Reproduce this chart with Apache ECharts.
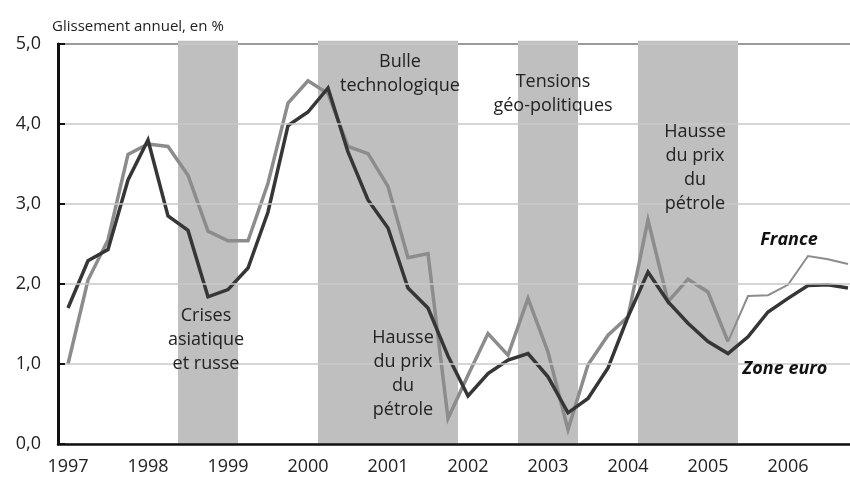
<!DOCTYPE html>
<html lang="fr">
<head>
    <meta charset="utf-8"/>
    <title>Glissement annuel, en %</title>
    <script src="https://cdn.jsdelivr.net/npm/echarts@6/dist/echarts.min.js"></script>
    <style>
        html, body { margin: 0; padding: 0; background: #fff; }
        #main { width: 850px; height: 481px; }
    </style>
</head>
<body>
<div id="main"></div>
<script>
    // trimestres 1997T1 .. 2006T4
    var quarters = [];
    for (var y = 1997; y <= 2006; y++) {
        for (var q = 1; q <= 4; q++) {
            quarters.push(y + 'T' + q);
        }
    }

    var zoneEuro = [1.70, 2.29, 2.43, 3.30, 3.80, 2.85, 2.67, 1.84, 1.93, 2.20,
        2.90, 3.98, 4.15, 4.45, 3.65, 3.05, 2.70, 1.95, 1.70, 1.10,
        0.60, 0.88, 1.05, 1.13, 0.84, 0.39, 0.57, 0.95, 1.59, 2.15,
        1.78, 1.51, 1.28, 1.13, 1.34, 1.65, 1.82, 1.98, 1.99, 1.95];

    var france = [1.00, 2.05, 2.55, 3.62, 3.75, 3.72, 3.36, 2.66, 2.54, 2.54,
        3.26, 4.26, 4.54, 4.38, 3.72, 3.63, 3.22, 2.33, 2.38, 0.32,
        0.86, 1.38, 1.11, 1.82, 1.15, 0.18, 0.99, 1.36, 1.59, 2.80,
        1.78, 2.06, 1.90, 1.28, 1.85, 1.86, 1.99, 2.35, 2.31, 2.25];

    // à partir de cet indice la courbe France est tracée en trait fin
    var franceThinFrom = 33;

    // épisodes grisés, en bornes de trimestres (0 = début 1997)
    var bandStart = [6, 13, 23, 29];
    var bandEnd = [9, 20, 26, 34];

    var franceThick = france.map(function (v, i) { return i <= franceThinFrom ? v : null; });
    var franceThin = france.map(function (v, i) { return i >= franceThinFrom ? v : null; });
    var bands = bandStart.map(function (s, i) { return [s, bandEnd[i]]; });

    var font = '"Open Sans", Lato, sans-serif';
    var txtColor = '#222';

    var myChart = echarts.init(document.getElementById('main'));

    function bandText(text, x, y) {
        return {
            type: 'text', x: x, y: y, z: 100,
            style: {
                text: text, fill: txtColor, font: '18px ' + font,
                textAlign: 'center', textVerticalAlign: 'top', lineHeight: 24
            }
        };
    }

    var option = {
        animation: false,
        backgroundColor: '#fff',
        grid: { left: 58, top: 44, width: 800, height: 400, outerBoundsMode: 'none', containLabel: false },
        xAxis: [{
            type: 'category',
            data: quarters,
            boundaryGap: true,
            z: 5,
            axisLine: { lineStyle: { color: '#111', width: 2.5 } },
            axisTick: { interval: 3, inside: true, length: 7, lineStyle: { color: '#111', width: 2 } },
            axisLabel: {
                interval: 3, margin: 14, fontSize: 18, color: txtColor, fontFamily: font,
                formatter: function (v) { return v.substring(0, 4); }
            }
        }, {
            type: 'value',
            min: 0, max: 40,
            position: 'top',
            axisLine: { show: true, onZero: false, lineStyle: { color: '#111', width: 2 } },
            axisTick: { show: false },
            axisLabel: { show: false },
            splitLine: { show: false }
        }],
        yAxis: {
            type: 'value',
            min: 0, max: 5, interval: 1,
            z: 5,
            axisLine: { show: true, lineStyle: { color: '#111', width: 3 } },
            axisTick: { show: true, inside: true, length: 7, lineStyle: { color: '#111', width: 2 } },
            axisLabel: {
                margin: 17, fontSize: 18, color: txtColor, fontFamily: font,
                formatter: function (v) { return v.toFixed(1).replace('.', ','); }
            },
            splitLine: { lineStyle: { color: '#c8c8c8', width: 1.5 } }
        },
        series: [{
            name: 'episodes',
            type: 'custom',
            xAxisIndex: 1,
            z: 1,
            data: bands,
            renderItem: function (params, api) {
                var p0 = api.coord([api.value(0), 5.04]);
                var p1 = api.coord([api.value(1), 0]);
                return {
                    type: 'rect',
                    shape: { x: p0[0], y: p0[1], width: p1[0] - p0[0], height: p1[1] - p0[1] },
                    style: { fill: '#bfbfbf' }
                };
            }
        }, {
            name: 'France',
            type: 'line',
            data: franceThick,
            symbol: 'none',
            z: 3,
            lineStyle: { color: '#8c8c8c', width: 3.5, join: 'miter' }
        }, {
            name: 'France prev',
            type: 'line',
            data: franceThin,
            symbol: 'none',
            z: 3,
            lineStyle: { color: '#8c8c8c', width: 2, join: 'miter' }
        }, {
            name: 'Zone euro',
            type: 'line',
            data: zoneEuro,
            symbol: 'none',
            z: 4,
            lineStyle: { color: '#363636', width: 3.5, join: 'miter' }
        }],
        graphic: [
            {
                type: 'text', x: 52, y: 27,
                style: { text: 'Glissement annuel, en %', fill: txtColor, font: '15px ' + font, textVerticalAlign: 'middle' }
            },
            bandText('Crises\nasiatique\net russe', 206, 304),
            bandText('Bulle\ntechnologique', 400, 50),
            bandText('Tensions\ngéo-politiques', 553, 70),
            bandText('Hausse\ndu prix\ndu\npétrole', 403, 326),
            bandText('Hausse\ndu prix\ndu\npétrole', 695, 120),
            {
                type: 'text', x: 789, y: 240, z: 100,
                style: { text: 'France', fill: '#111', font: 'italic bold 18px ' + font, textAlign: 'center', textVerticalAlign: 'middle' }
            },
            {
                type: 'text', x: 785, y: 369, z: 100,
                style: { text: 'Zone euro', fill: '#111', font: 'italic bold 18px ' + font, textAlign: 'center', textVerticalAlign: 'middle' }
            }
        ]
    };

    myChart.setOption(option);
</script>
</body>
</html>
